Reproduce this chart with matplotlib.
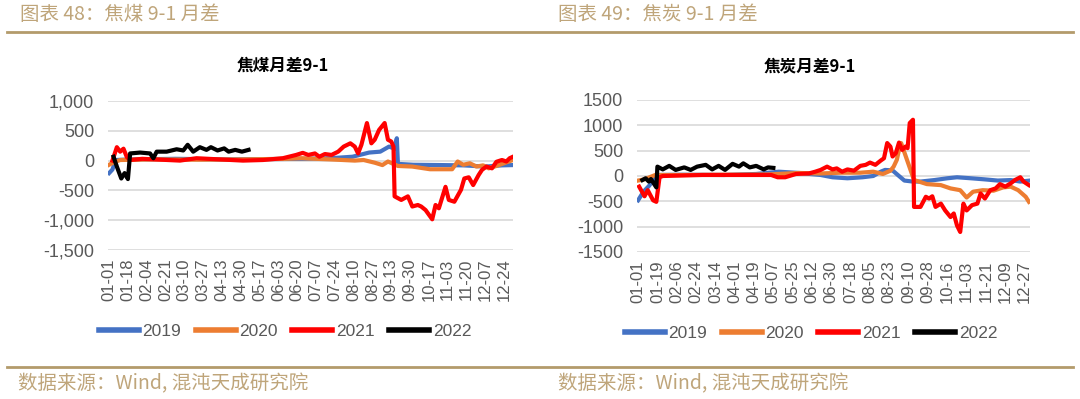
import matplotlib
matplotlib.use('Agg')
import matplotlib.pyplot as plt
import pandas as pd

# day-of-year (0 = Jan 1) and value pairs
# --- 焦煤 9-1 ---
COAL_2019_DAYS = [0, 3, 6, 20, 60, 100, 140, 175, 200, 220, 235, 245, 253, 258, 260, 261, 275, 300, 320, 340, 355, 365]
COAL_2019_VALS = [-210, -150, 10, 20, 30, 20, 25, 30, 40, 65, 135, 150, 235, 200, 375, -55, -70, -75, -80, -100, -80, -75]

COAL_2020_DAYS = [0, 4, 10, 40, 80, 120, 160, 174, 200, 222, 230, 240, 247, 252, 261, 274, 290, 310, 315, 320, 326, 332, 338, 343, 350, 365]
COAL_2020_VALS = [-70, -30, 10, 20, 15, 20, 30, 40, 20, 0, 10, -35, -75, -15, -90, -100, -145, -145, -15, -70, -45, -100, -80, -130, -90, 10]

COAL_2021_DAYS = [3, 7, 10, 13, 16, 19, 30, 64, 79, 121, 139, 157, 169, 175, 180, 186, 190, 195, 201, 207, 212, 218,
                  222, 225, 228, 233, 237, 240, 244, 249, 252, 255, 257, 258, 264, 270, 274, 279, 282, 286, 292, 295,
                  298, 304, 307, 312, 318, 321, 325, 329, 334, 337, 341, 346, 350, 355, 359, 362, 365]
COAL_2021_VALS = [0, 225, 150, 200, 60, 10, 30, 0, 40, 0, 10, 40, 95, 130, 95, 120, 65, 110, 95, 150, 235, 290,
                  235, 120, 265, 630, 290, 350, 515, 630, 350, 320, 235, -600, -660, -600, -770, -745, -770, -830, -985, -745,
                  -800, -440, -660, -690, -490, -300, -280, -410, -240, -155, -100, -130, -20, 10, -15, 40, 65]

COAL_2022_DAYS = [4, 7, 11, 14, 17, 19, 28, 37, 40, 43, 52, 61, 67, 71, 76, 82, 88, 92, 98, 104, 108, 114, 120, 126]
COAL_2022_VALS = [65, -100, -300, -210, -310, 120, 135, 120, 40, 150, 150, 190, 170, 265, 150, 225, 180, 225, 170, 205, 150, 180, 150, 180]

# --- 焦炭 9-1 ---
COKE_2019_DAYS = [0, 5, 10, 18, 40, 80, 110, 131, 150, 170, 181, 195, 209, 219, 226, 230, 237, 243, 248, 256, 263, 276,
                  288, 297, 310, 322, 335, 347, 356, 365]
COKE_2019_VALS = [-480, -310, -200, 20, 25, 20, 40, 85, 60, 20, -25, -45, -25, 0, 85, 120, 110, 0, -90, -110, -110, -80,
                  -45, -25, -45, -65, -90, -80, -110, -90]

COKE_2020_DAYS = [0, 6, 16, 40, 80, 120, 150, 170, 189, 207, 219, 228, 235, 238, 241, 243, 245, 257, 269, 282, 291,
                  300, 306, 312, 321, 331, 340, 347, 354, 361, 364]
COKE_2020_VALS = [-90, -65, 20, 20, 25, 30, 60, 50, 65, 65, 85, 40, 105, 185, 320, 515, 650, -80, -160, -180, -245,
                  -280, -425, -310, -280, -290, -225, -210, -280, -410, -510]

COKE_2021_DAYS = [1, 6, 9, 14, 17, 20, 23, 60, 100, 124, 130, 137, 147, 159, 165, 170, 176, 181, 185, 190, 195, 201,
                  207, 212, 216, 221, 226, 229, 232, 235, 237, 240, 243, 246, 249, 251, 253, 256, 257, 263, 268, 271,
                  274, 277, 282, 286, 291, 294, 297, 300, 303, 306, 311, 316, 319, 323, 328, 333, 337, 342, 347, 351,
                  356, 359, 364]
COKE_2021_VALS = [-210, -400, -280, -480, -510, -25, 0, 20, 20, 20, -25, -25, 40, 50, 85, 120, 185, 130, 150, 85, 130, 105,
                  200, 220, 265, 220, 305, 350, 650, 580, 385, 450, 660, 515, 580, 550, 1045, 1110, -610, -610, -410, -445,
                  -400, -610, -545, -680, -810, -740, -975, -1105, -545, -680, -575, -545, -345, -445, -280, -245, -160, -210, -145, -80,
                  -25, -110, -180]

COKE_2022_DAYS = [4, 7, 10, 12, 17, 18, 23, 29, 35, 43, 49, 55, 63, 69, 75, 81, 88, 94, 98, 104, 110, 117, 121, 126]
COKE_2022_VALS = [-80, -45, -110, -60, -225, 185, 130, 200, 120, 170, 120, 185, 220, 130, 200, 120, 240, 185, 250, 170, 200, 130, 170, 160]

COAL_TICKS = ['01-01', '01-18', '02-04', '02-21', '03-10', '03-27', '04-13', '04-30', '05-17', '06-03', '06-20',
              '07-07', '07-24', '08-10', '08-27', '09-13', '09-30', '10-17', '11-03', '11-20', '12-07', '12-24']
COKE_TICKS = ['01-01', '01-19', '02-06', '02-24', '03-14', '04-01', '04-19', '05-07', '05-25', '06-12', '06-30',
              '07-18', '08-05', '08-23', '09-10', '09-28', '10-16', '11-03', '11-21', '12-09', '12-27']

YEARS = ['2019', '2020', '2021', '2022']
COLORS = ['#4472C4', '#ED7D31', '#FF0000', '#000000']

GOLD = '#B39B6B'
GOLD_TEXT = '#BFA57A'
GREY = '#595959'
CJK = ['Noto Sans CJK SC', 'DejaVu Sans']
LATIN = 'Liberation Sans'


def tick_positions(labels):
    return [pd.Timestamp('2021-' + s).dayofyear - 1 for s in labels]


def draw_panel(ax, series, ticks, ylim, ystep, comma):
    for (days, vals), color, year in zip(series, COLORS, YEARS):
        ax.plot(days, vals, color=color, lw=3.0, label=year, solid_joinstyle='round')
    ax.set_xlim(-1, 365)
    ax.set_ylim(*ylim)
    yt = list(range(ylim[0], ylim[1] + 1, ystep))
    ax.set_yticks(yt)
    if comma:
        ax.set_yticklabels([format(v, ',') for v in yt], family=LATIN)
    else:
        ax.set_yticklabels([str(v) for v in yt], family=LATIN)
    ax.set_xticks(tick_positions(ticks))
    ax.set_xticklabels(ticks, rotation=90, family=LATIN)
    ax.grid(axis='y', color='#D9D9D9', lw=1.2)
    ax.set_axisbelow(True)
    for s in ax.spines.values():
        s.set_visible(False)
    ax.tick_params(length=0, colors=GREY)
    ax.tick_params(axis='y', labelsize=13, pad=10)
    ax.tick_params(axis='x', labelsize=12, pad=6)


def main():
    fig = plt.figure(figsize=(10.8, 3.99), dpi=100)
    W, H = 1080.0, 399.0

    ax1 = fig.add_axes([108 / W, 1 - 250 / H, 405 / W, 149 / H])
    ax2 = fig.add_axes([637 / W, 1 - 252 / H, 393 / W, 152 / H])

    coal = [(COAL_2019_DAYS, COAL_2019_VALS), (COAL_2020_DAYS, COAL_2020_VALS),
            (COAL_2021_DAYS, COAL_2021_VALS), (COAL_2022_DAYS, COAL_2022_VALS)]
    coke = [(COKE_2019_DAYS, COKE_2019_VALS), (COKE_2020_DAYS, COKE_2020_VALS),
            (COKE_2021_DAYS, COKE_2021_VALS), (COKE_2022_DAYS, COKE_2022_VALS)]
    draw_panel(ax1, coal, COAL_TICKS, (-1500, 1000), 500, True)
    draw_panel(ax2, coke, COKE_TICKS, (-1500, 1500), 500, False)

    # legends
    for ax, cx, cy in ((ax1, 285, 331), (ax2, 811, 333)):
        h, l = ax.get_legend_handles_labels()
        leg = fig.legend(h, l, loc='center', bbox_to_anchor=(cx / W, 1 - cy / H), ncol=4, frameon=False,
                         prop={'family': LATIN, 'size': 12.5}, handlelength=2.3, handletextpad=0.2,
                         columnspacing=0.85)
        for t in leg.get_texts():
            t.set_color(GREY)
        for ln in leg.get_lines():
            ln.set_linewidth(4)

    # chart titles
    fig.text(283 / W, 1 - 66 / H, '焦煤月差9-1', ha='center', va='center', fontsize=12,
             fontweight='bold', family=CJK)
    fig.text(810 / W, 1 - 66 / H, '焦炭月差9-1', ha='center', va='center', fontsize=12,
             fontweight='bold', family=CJK)

    # report frame: header / footer text and gold rules
    for x0, txt in ((20, '图表 48：焦煤 9-1 月差'), (558, '图表 49：焦炭 9-1 月差')):
        fig.text(x0 / W, 1 - 15 / H, txt, ha='left', va='center', fontsize=14,
                 color=GOLD_TEXT, family=CJK)
    for x0 in (18, 558):
        fig.text(x0 / W, 1 - 384 / H, '数据来源：Wind, 混沌天成研究院', ha='left', va='center',
                 fontsize=14, color=GOLD_TEXT, family=CJK)
    for y in (32, 367):
        fig.add_artist(plt.Line2D([7 / W, 1073 / W], [1 - y / H, 1 - y / H], color=GOLD, lw=2))

    fig.savefig('out.png', dpi=100)


if __name__ == '__main__':
    main()
